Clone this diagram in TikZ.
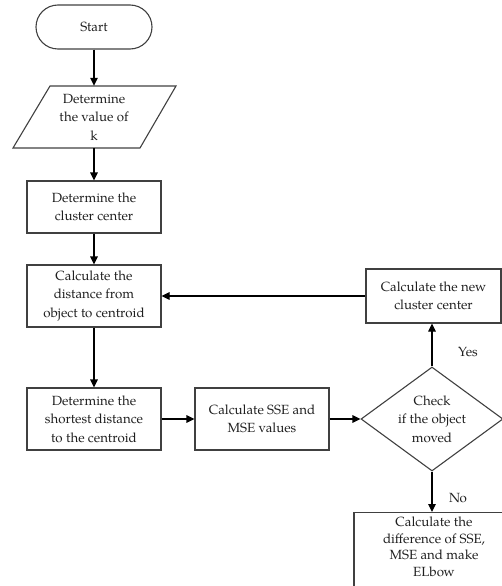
\documentclass[tikz,border=0pt]{standalone}
\usepackage{fontspec}
\setmainfont{TeX Gyre Pagella}
\usetikzlibrary{shapes.geometric,arrows.meta}
\begin{document}
\begin{tikzpicture}[x=1pt,y=-1pt,
  every node/.style={font=\fontsize{13.3}{18.5}\selectfont, text=black!88, align=center},
  box/.style={draw=black!75, line width=1.1pt, rectangle, inner sep=2pt},
  arr/.style={-{Triangle[length=8pt,width=7.5pt]}, line width=1.1pt, draw=black},
  lbl/.style={font=\fontsize{13.3}{16}\selectfont, text=black!88}]
\clip (0,0) rectangle (502,586);
\useasboundingbox (0,0) rectangle (502,586);
\node[box, rounded corners=22pt, minimum width=116pt, minimum height=44pt] (start) at (94,27) {Start};
\node[minimum width=94pt, minimum height=62pt, inner sep=0pt] (k) at (94,117) {Determine\\the value of\\k};
\draw[draw=black!75, line width=1.1pt] (50,86) -- (176,86) -- (140,148) -- (13,148) -- cycle;
\node[box, minimum width=134pt, minimum height=52pt] (b1) at (94,207) {Determine the\\cluster center};
\node[box, minimum width=134pt, minimum height=62pt] (b2) at (94,296) {Calculate the\\distance from\\object to centroid};
\node[box, minimum width=134pt, minimum height=62pt] (b3) at (94,419) {Determine the\\shortest distance\\to the centroid};
\node[box, minimum width=134pt, minimum height=62pt] (sse) at (262,419) {Calculate SSE and\\MSE values};
\node[draw=black!75, line width=1.1pt, diamond, aspect=1.37, minimum width=142pt, minimum height=104pt, inner sep=0pt] (chk) at (432,419) {Check\\if the object\\moved};
\node[box, minimum width=135pt, minimum height=54pt] (newc) at (433.5,296) {Calculate the new\\cluster center};
\node[box, minimum width=160pt, minimum height=80pt, font=\fontsize{13.3}{16.5}\selectfont, anchor=north] (last) at (434,512) {};
\node[font=\fontsize{13.3}{16.5}\selectfont] (lasttext) at (434,547) {Calculate the\\difference of SSE,\\MSE and make\\ELbow};
\draw[arr] (start) -- (k.north);
\draw[arr] (k.south) -- (b1);
\draw[arr] (b1) -- (b2);
\draw[arr] (b2) -- (b3);
\draw[arr] (b3) -- (sse);
\draw[arr] (sse) -- (chk);
\draw[arr] (chk.north) -- (newc.south -| chk.north);
\draw[arr] (newc) -- (b2);
\draw[arr] (chk.south) -- (last.north -| chk.south);
\node[lbl] (yes) at (468,352) {Yes};
\node[lbl] (no) at (458,498) {No};
\end{tikzpicture}
\end{document}
